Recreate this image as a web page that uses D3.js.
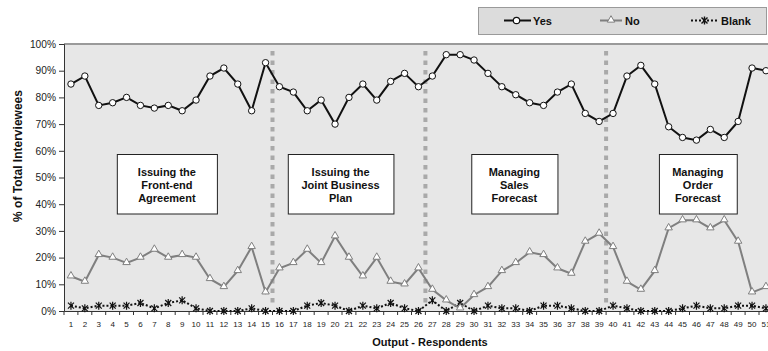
<!DOCTYPE html>
<html>
<head>
<meta charset="utf-8">
<script src="https://cdn.jsdelivr.net/npm/d3@7"></script>
<style>
  body { margin: 0; background: #fff; }
  svg { display: block; }
  text { font-family: "Liberation Sans", Arial, sans-serif; }
</style>
</head>
<body>
<svg id="chart" width="768" height="351"></svg>
<script>
// Respondent numbers along the category axis
const respondents = [1,2,3,4,5,6,7,8,9,10,11,12,13,14,15,16,17,18,19,20,21,22,23,24,25,
  26,27,28,29,30,31,32,33,34,35,36,37,38,39,40,41,42,43,44,45,46,47,48,49,50,51];

// Share of interviewees (%) answering Yes / No / leaving it blank, per respondent output
const yesValues = [85,88,77,78,80,77,76,77,75,79,88,91,85,75,93,84,82,75,79,70,80,85,79,86,89,
  84,88,96,96,94,89,84,81,78,77,82,85,74,71,74,88,92,85,69,65,64,68,65,71,91,90];
const noValues = [13,11,21,20,18,20,23,20,21,20,12,9,15,24,7,16,18,23,18,28,20,13,20,11,10,
  16,8,4,1,6,9,15,18,22,21,16,14,26,29,24,11,8,15,31,34,34,31,34,26,7,9];
const blankValues = [2,1,2,2,2,3,1,3,4,1,0,0,0,1,0,0,0,2,3,2,0,2,1,3,1,
  0,4,0,3,0,2,1,1,0,2,2,1,0,0,2,1,0,0,0,1,2,1,1,2,2,1];

const yTicks = [0,10,20,30,40,50,60,70,80,90,100];
const seriesNames = ["Yes", "No", "Blank"];

// Last respondent of each phase (a divider follows it)
const phaseEnds = [15, 26, 39];
const phaseTitles = [
  ["Issuing the", "Front-end", "Agreement"],
  ["Issuing the", "Joint Business", "Plan"],
  ["Managing", "Sales", "Forecast"],
  ["Managing", "Order", "Forecast"]
];

const svg = d3.select("#chart");
const plotLeft = 64, plotTop = 44, plotBottom = 311, step = 13.9;

const x = d3.scaleBand()
  .domain(respondents)
  .range([plotLeft, plotLeft + step * respondents.length])
  .paddingInner(0).paddingOuter(0);
const xc = d => x(d) + x.bandwidth() / 2;
const y = d3.scaleLinear().domain([0, 100]).range([plotBottom, plotTop]);

// Plot background
svg.append("rect")
  .attr("x", plotLeft).attr("y", plotTop)
  .attr("width", x.range()[1] - plotLeft).attr("height", plotBottom - plotTop)
  .attr("fill", "#e7e7e7");
svg.append("line")
  .attr("x1", plotLeft).attr("x2", x.range()[1])
  .attr("y1", plotTop).attr("y2", plotTop)
  .attr("stroke", "#9a9a9a").attr("stroke-width", 2);

// Phase dividers
svg.append("g").selectAll("line").data(phaseEnds).join("line")
  .attr("x1", d => x(d) + x.bandwidth()).attr("x2", d => x(d) + x.bandwidth())
  .attr("y1", 51).attr("y2", 304)
  .attr("stroke", "#a9a9a9").attr("stroke-width", 4)
  .attr("stroke-dasharray", "4.5,5");

// Phase boxes (extent given in band units from the left of the plot)
const boxExtents = [[3.8, 11.0], [16.1, 23.7], [29.3, 35.5], [42.8, 48.4]];
const bx = d3.scaleLinear().domain([0, respondents.length]).range(x.range());
const boxes = svg.append("g").selectAll("g").data(phaseTitles).join("g");
boxes.append("rect")
  .attr("x", (d, i) => bx(boxExtents[i][0]) + 0.5)
  .attr("y", 154.5)
  .attr("width", (d, i) => bx(boxExtents[i][1]) - bx(boxExtents[i][0]))
  .attr("height", 59.5)
  .attr("fill", "#fff").attr("stroke", "#222").attr("stroke-width", 1);
boxes.each(function(lines, i) {
  const cx = (bx(boxExtents[i][0]) + bx(boxExtents[i][1])) / 2;
  d3.select(this).selectAll("text").data(lines).join("text")
    .attr("x", cx).attr("y", (d, j) => 175.5 + j * 13)
    .attr("text-anchor", "middle")
    .attr("font-size", 11).attr("font-weight", "bold").attr("fill", "#111")
    .text(d => d);
});

// Axes
const yAxis = svg.append("g")
  .attr("transform", `translate(${plotLeft},0)`)
  .call(d3.axisLeft(y).tickValues(yTicks).tickFormat(d => d + "%").tickSize(5).tickPadding(3));
yAxis.select(".domain").attr("stroke", "#333");
yAxis.selectAll(".tick line").attr("stroke", "#333");
yAxis.selectAll("text").attr("font-size", 10.2).attr("fill", "#222")
  .attr("font-family", "\"Liberation Sans\", Arial, sans-serif");

const xAxis = svg.append("g")
  .attr("transform", `translate(0,${plotBottom})`)
  .call(d3.axisBottom(x).tickSize(0).tickPadding(10));
xAxis.select(".domain").attr("stroke", "#333");
xAxis.selectAll("text").attr("font-size", 8).attr("fill", "#222")
  .attr("font-family", "\"Liberation Sans\", Arial, sans-serif");
// Tick marks on category boundaries
xAxis.append("g").selectAll("line").data(respondents).join("line")
  .attr("x1", d => x(d)).attr("x2", d => x(d))
  .attr("y1", 0).attr("y2", 4).attr("stroke", "#333");

// Axis titles
svg.append("text")
  .attr("transform", "translate(22,156) rotate(-90)")
  .attr("text-anchor", "middle")
  .attr("font-size", 12).attr("font-weight", "bold").attr("fill", "#111")
  .text("% of Total Interviewees");
svg.append("text")
  .attr("x", 430).attr("y", 346)
  .attr("text-anchor", "middle")
  .attr("font-size", 11).attr("font-weight", "bold").attr("fill", "#111")
  .text("Output - Respondents");

// Marker helpers
const starPath = s => `M${-s},${-s}L${s},${s}M${-s},${s}L${s},${-s}M0,${-s - 1}L0,${s + 1}`;
const triPath = d3.symbol().type(d3.symbolTriangle).size(24);

const line = vals => d3.line().x((d, i) => xc(respondents[i])).y(d => y(d))(vals);

// Blank series
svg.append("path").attr("d", line(blankValues))
  .attr("fill", "none").attr("stroke", "#111").attr("stroke-width", 2)
  .attr("stroke-dasharray", "2,2");
svg.append("g").selectAll("path").data(blankValues).join("path")
  .attr("transform", (d, i) => `translate(${xc(respondents[i])},${y(d)})`)
  .attr("d", starPath(3))
  .attr("stroke", "#111").attr("stroke-width", 1.2).attr("fill", "none");

// No series
svg.append("path").attr("d", line(noValues))
  .attr("fill", "none").attr("stroke", "#7f7f7f").attr("stroke-width", 2);
svg.append("g").selectAll("path").data(noValues).join("path")
  .attr("transform", (d, i) => `translate(${xc(respondents[i])},${y(d) - 0.5})`)
  .attr("d", triPath)
  .attr("fill", "#fff").attr("stroke", "#7f7f7f").attr("stroke-width", 1);

// Yes series
svg.append("path").attr("d", line(yesValues))
  .attr("fill", "none").attr("stroke", "#111").attr("stroke-width", 2);
svg.append("g").selectAll("circle").data(yesValues).join("circle")
  .attr("cx", (d, i) => xc(respondents[i])).attr("cy", d => y(d))
  .attr("r", 3.2)
  .attr("fill", "#fff").attr("stroke", "#111").attr("stroke-width", 1);

// Legend
const lg = svg.append("g");
lg.append("rect")
  .attr("x", 478.5).attr("y", 7.5).attr("width", 288).attr("height", 27)
  .attr("fill", "#dcdcdc").attr("stroke", "#9a9a9a").attr("stroke-width", 1);
const legendItems = [
  { name: seriesNames[0], x0: 504, x1: 531, tx: 533 },
  { name: seriesNames[1], x0: 600, x1: 622, tx: 625 },
  { name: seriesNames[2], x0: 691, x1: 718, tx: 721 }
];
const ly = 20.5;
// Yes
lg.append("line").attr("x1", legendItems[0].x0).attr("x2", legendItems[0].x1)
  .attr("y1", ly).attr("y2", ly).attr("stroke", "#111").attr("stroke-width", 2);
lg.append("circle").attr("cx", (legendItems[0].x0 + legendItems[0].x1) / 2 - 1).attr("cy", ly)
  .attr("r", 3.2).attr("fill", "#fff").attr("stroke", "#111").attr("stroke-width", 1.2);
// No
lg.append("line").attr("x1", legendItems[1].x0).attr("x2", legendItems[1].x1)
  .attr("y1", ly).attr("y2", ly).attr("stroke", "#7f7f7f").attr("stroke-width", 2);
lg.append("path").attr("transform", `translate(${(legendItems[1].x0 + legendItems[1].x1) / 2},${ly - 0.5})`)
  .attr("d", triPath).attr("fill", "#fff").attr("stroke", "#7f7f7f").attr("stroke-width", 1);
// Blank
lg.append("line").attr("x1", legendItems[2].x0).attr("x2", legendItems[2].x1)
  .attr("y1", ly).attr("y2", ly).attr("stroke", "#111").attr("stroke-width", 2)
  .attr("stroke-dasharray", "2,2");
lg.append("path").attr("transform", `translate(${(legendItems[2].x0 + legendItems[2].x1) / 2},${ly})`)
  .attr("d", starPath(3)).attr("stroke", "#111").attr("stroke-width", 1.4).attr("fill", "none");
lg.selectAll("text.lbl").data(legendItems).join("text")
  .attr("class", "lbl")
  .attr("x", d => d.tx).attr("y", ly + 4)
  .attr("font-size", 11).attr("font-weight", "bold").attr("fill", "#111")
  .text(d => d.name);
</script>
</body>
</html>
